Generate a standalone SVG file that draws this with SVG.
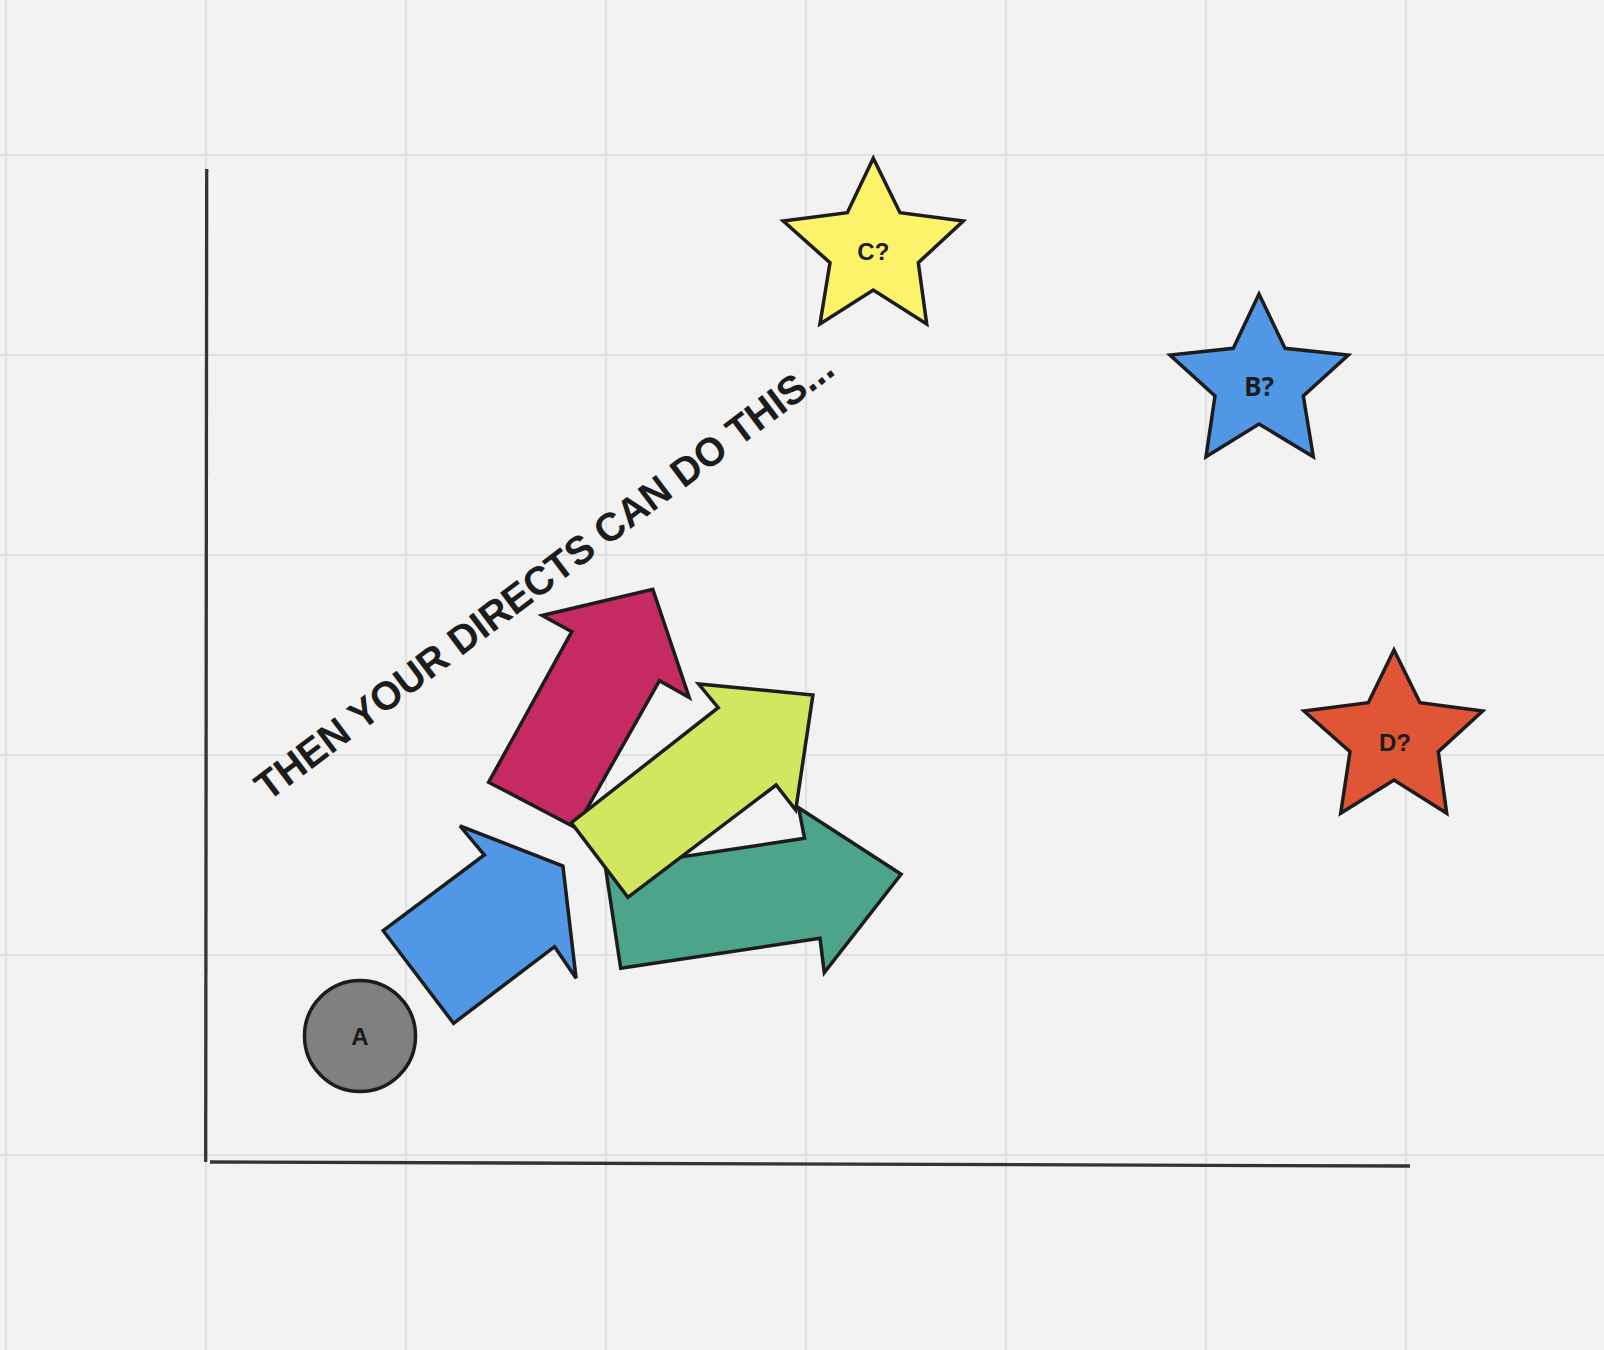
<svg xmlns="http://www.w3.org/2000/svg" width="1604" height="1350" viewBox="0 0 1604 1350">
  <style>
    .grid line { stroke: #e0e0e0; stroke-width: 2; }
    .axis { stroke: #333333; stroke-width: 3.3; stroke-linecap: butt; fill: none; }
    .shape { stroke: #1c1c1c; stroke-width: 3.5; stroke-linejoin: miter; }
    .hand { font-family: "Liberation Sans", "DejaVu Sans", sans-serif; font-weight: 700; fill: #1c1c1c; text-anchor: middle; }
    .label { font-family: "Noto Sans", "Open Sans", sans-serif; font-weight: 700; fill: #1c1c1c; text-anchor: middle; }
  </style>
  <rect x="0" y="0" width="1604" height="1350" fill="#f2f2f2"/>
  <g class="grid">
    <line x1="6" y1="0" x2="6" y2="1350"/>
    <line x1="206" y1="0" x2="206" y2="1350"/>
    <line x1="406" y1="0" x2="406" y2="1350"/>
    <line x1="606" y1="0" x2="606" y2="1350"/>
    <line x1="806" y1="0" x2="806" y2="1350"/>
    <line x1="1006" y1="0" x2="1006" y2="1350"/>
    <line x1="1206" y1="0" x2="1206" y2="1350"/>
    <line x1="1406" y1="0" x2="1406" y2="1350"/>
    <line x1="0" y1="155" x2="1604" y2="155"/>
    <line x1="0" y1="355" x2="1604" y2="355"/>
    <line x1="0" y1="555" x2="1604" y2="555"/>
    <line x1="0" y1="755" x2="1604" y2="755"/>
    <line x1="0" y1="955" x2="1604" y2="955"/>
    <line x1="0" y1="1155" x2="1604" y2="1155"/>
  </g>
  <g id="axes">
    <line class="axis" x1="206.7" y1="169" x2="205.7" y2="1162"/>
    <line class="axis" x1="210" y1="1162" x2="1410" y2="1166"/>
  </g>
  <g id="title">
    <text class="hand" x="268" y="802" font-size="40" text-anchor="start" textLength="712" lengthAdjust="spacingAndGlyphs" transform="rotate(-37 268 802)" style="text-anchor:start">THEN YOUR DIRECTS CAN DO THIS...</text>
  </g>
  <g id="arrow-blue">
    <polygon class="shape" fill="#5097e6" points="383.2,930.7 484.3,855 460,826 562.9,866 576.1,978.3 554.6,946.7 453.6,1023.3"/>
  </g>
  <g id="arrow-green">
    <polygon class="shape" fill="#4ca58b" points="605.6,868.2 804.6,838.3 798.6,807.7 901.1,874.3 824.3,972.7 820,938.3 620.7,968.3"/>
  </g>
  <g id="arrow-crimson">
    <polygon class="shape" fill="#c52a62" points="488.7,782.2 571.8,631.7 542.2,615.5 652.8,589.3 689.2,697.5 659.5,680.7 576,828"/>
  </g>
  <g id="arrow-lime">
    <polygon class="shape" fill="#d3e660" points="571.4,822.7 718.2,707.7 698.6,684 812.9,695 795.7,810 776.1,785 627.9,897.3"/>
  </g>
  <g id="node-a">
    <circle class="shape" cx="360" cy="1036" r="55.5" fill="#808080"/>
    <text class="hand" x="360" y="1045" font-size="24">A</text>
  </g>
  <g id="node-c">
    <polygon class="shape" fill="#fcf36a" points="873.3,158.3 900,212.7 963.3,221 918.3,262.7 926.7,324 873.3,290 820,324 830,262.7 783.3,221 847.3,212.7"/>
    <text class="hand" x="873.3" y="260" font-size="24">C?</text>
  </g>
  <g id="node-b">
    <polygon class="shape" fill="#5097e6" points="1259,294 1285,348.3 1348.3,355 1303.3,396 1313.3,456.7 1259,424 1206,456.7 1215,396 1170,355 1233.3,348.3"/>
    <text class="label" x="1259" y="396" font-size="26">B?</text>
  </g>
  <g id="node-d">
    <polygon class="shape" fill="#e05535" points="1394,650 1420,702.7 1482.7,711 1438.3,751.7 1446.7,813.3 1394,780 1340.7,813.3 1350,751.7 1304,711 1368.3,702.7"/>
    <text class="hand" x="1395" y="751" font-size="24">D?</text>
  </g>
  <g id="connectors"/>
</svg>
